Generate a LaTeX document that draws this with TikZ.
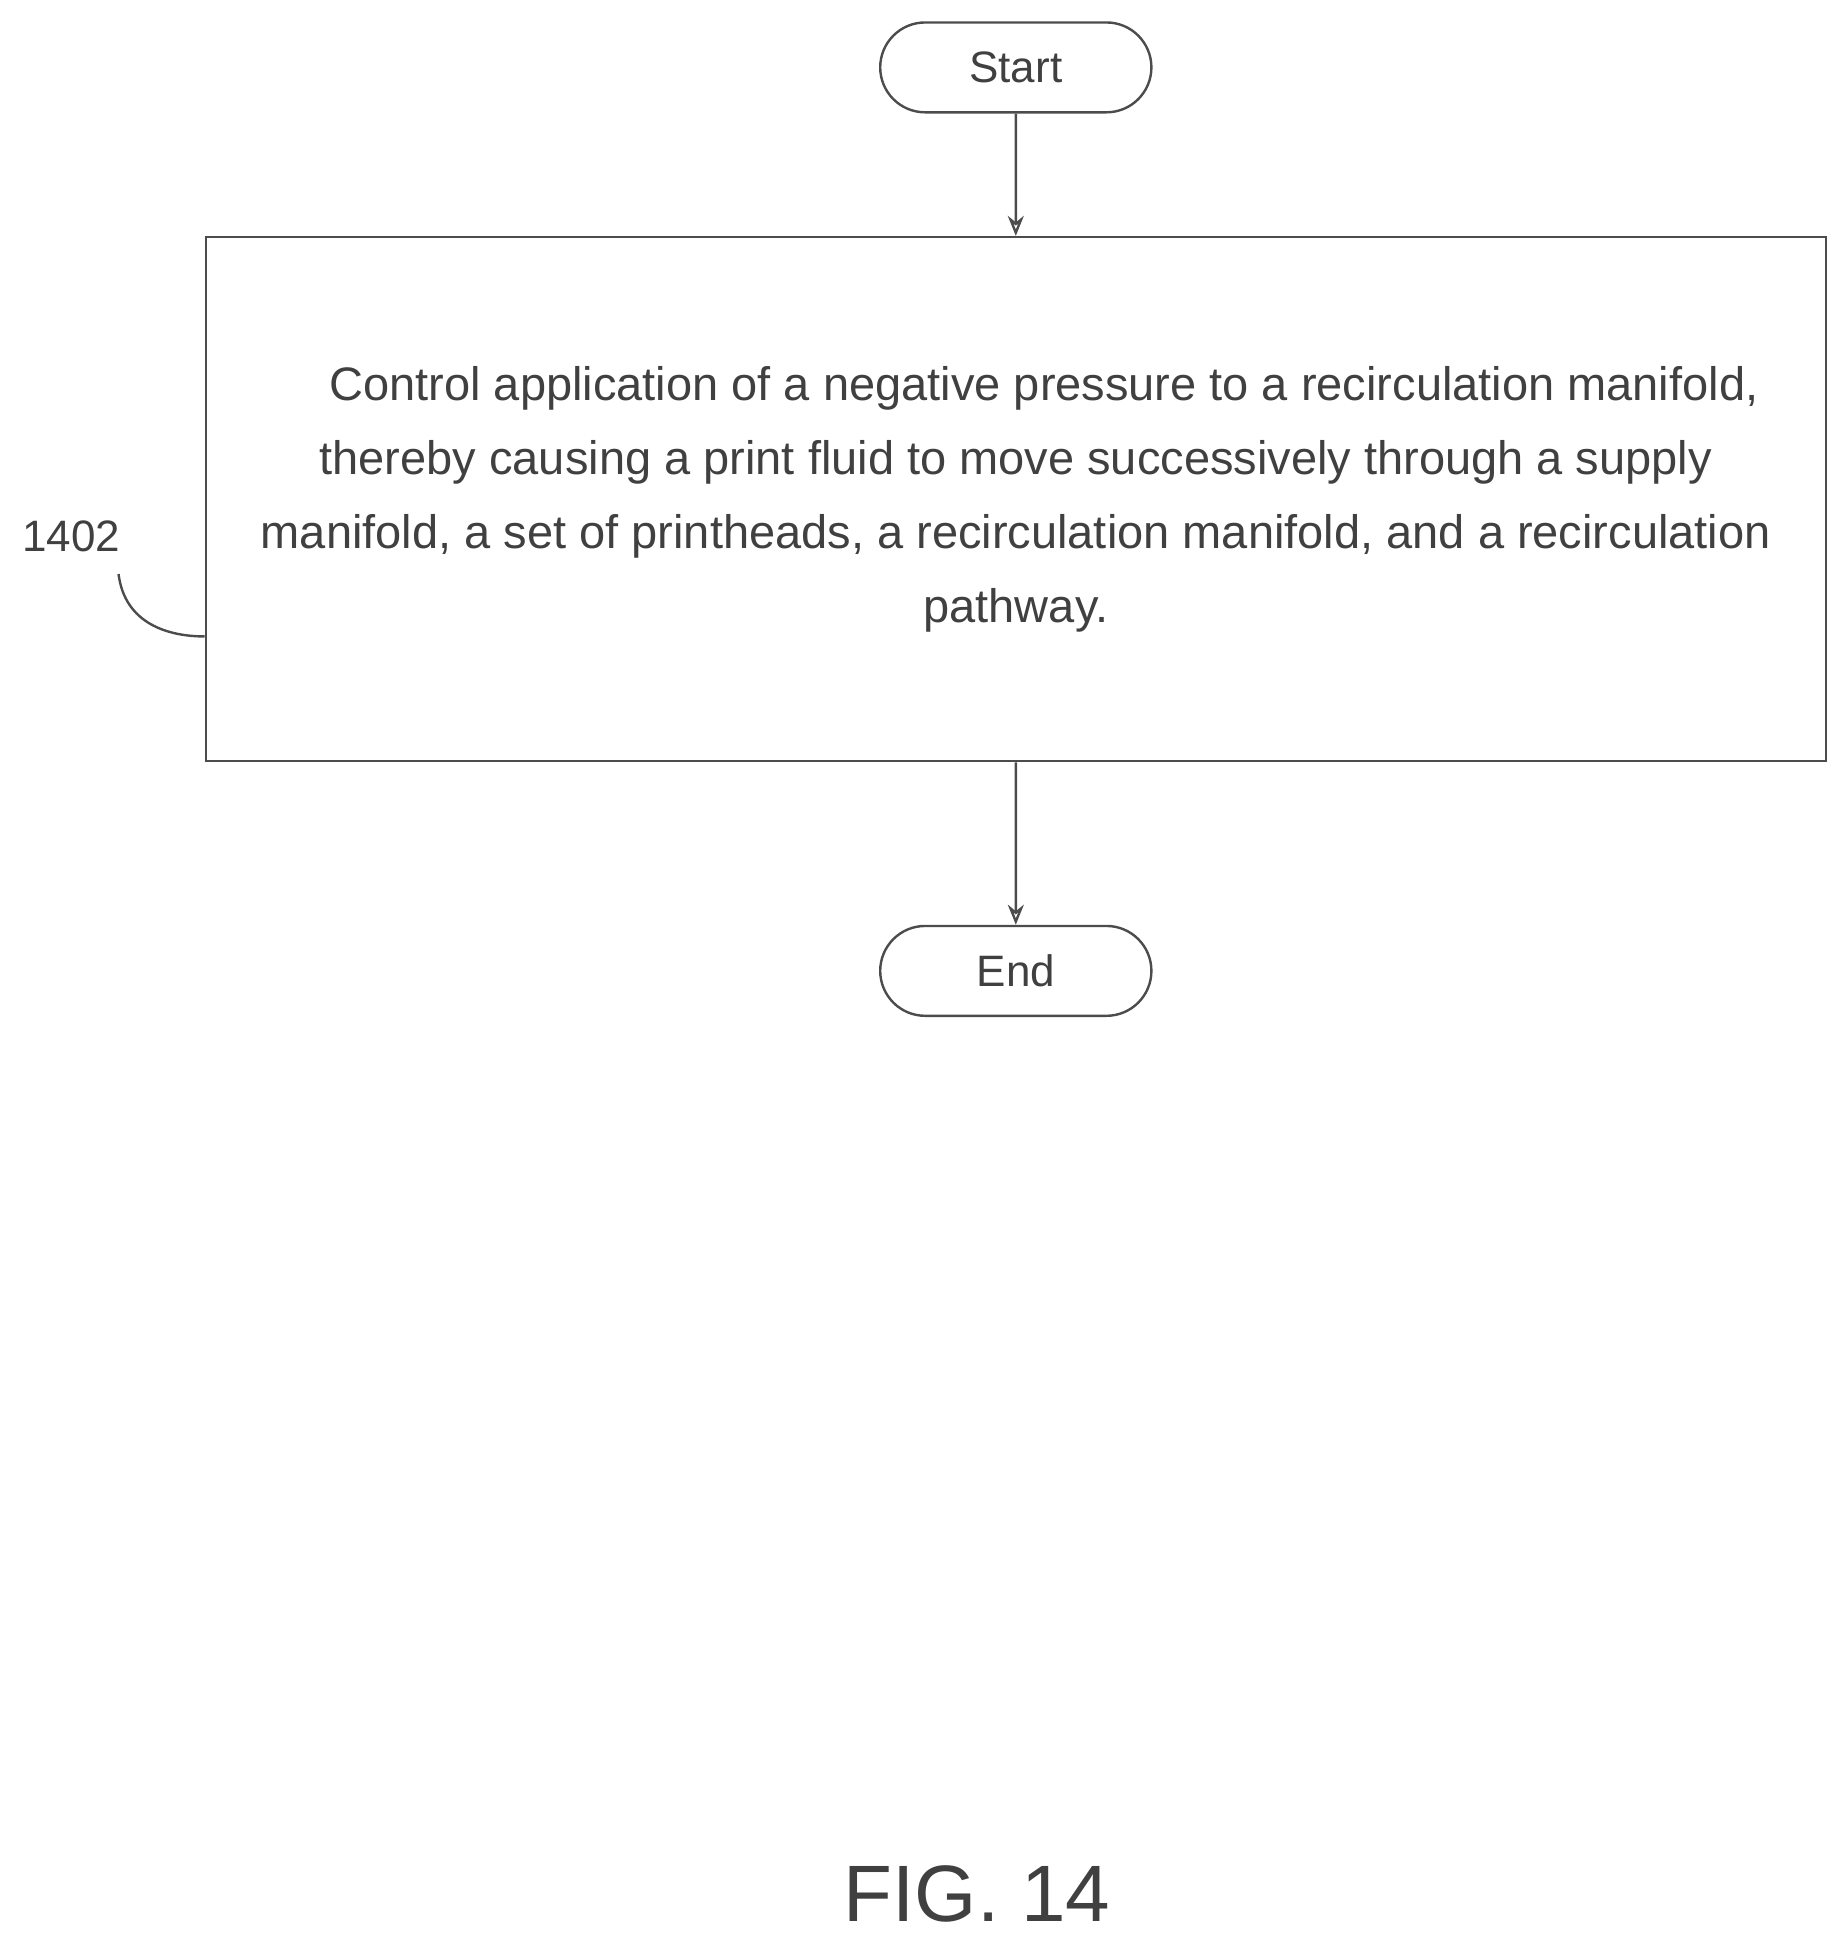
\documentclass[tikz,border=0pt]{standalone}
\usepackage{fontspec}
\setmainfont{Liberation Sans}
\usetikzlibrary{shapes.misc,arrows.meta}
\begin{document}
\begin{tikzpicture}[x=0.624pt,y=-0.624pt,
  every node/.style={text=black!75},
  term/.style={draw=black!70,line width=1.2pt,rounded rectangle,minimum width=228*0.624pt,minimum height=72*0.624pt,font=\fontsize{22}{26}\selectfont},
  proc/.style={draw=black!70,line width=1.2pt,minimum width=1298*0.624pt,minimum height=420*0.624pt,align=center,font=\fontsize{23.5}{37}\selectfont},
  arr/.style={draw=black!70,line width=1.2pt,-{Stealth[open,length=10pt,width=8pt]}}]
\useasboundingbox (0,0) rectangle (1466,1553);
\node[term] (s) at (814,54) {Start};
\node[proc] (p) at (814,400) {\hspace*{1.2em}Control application of a negative pressure to a recirculation manifold,\\thereby causing a print fluid to move successively through a supply\\manifold, a set of printheads, a recirculation manifold, and a recirculation\\pathway.};
\node[term] (e) at (814,778) {End};
\draw[arr] (s) -- (p);
\draw[arr] (p) -- (e);
\node[font=\fontsize{22}{26}\selectfont] (l) at (57,430) {1402};
\coordinate (c) at (95,460);
\draw[black!70,line width=1.2pt] (c) .. controls (100,500) and (135,510) .. (p.west |- 0,510);
\node[font=\fontsize{40}{46}\selectfont] (f) at (783,1518) {FIG. 14};
\end{tikzpicture}
\end{document}
